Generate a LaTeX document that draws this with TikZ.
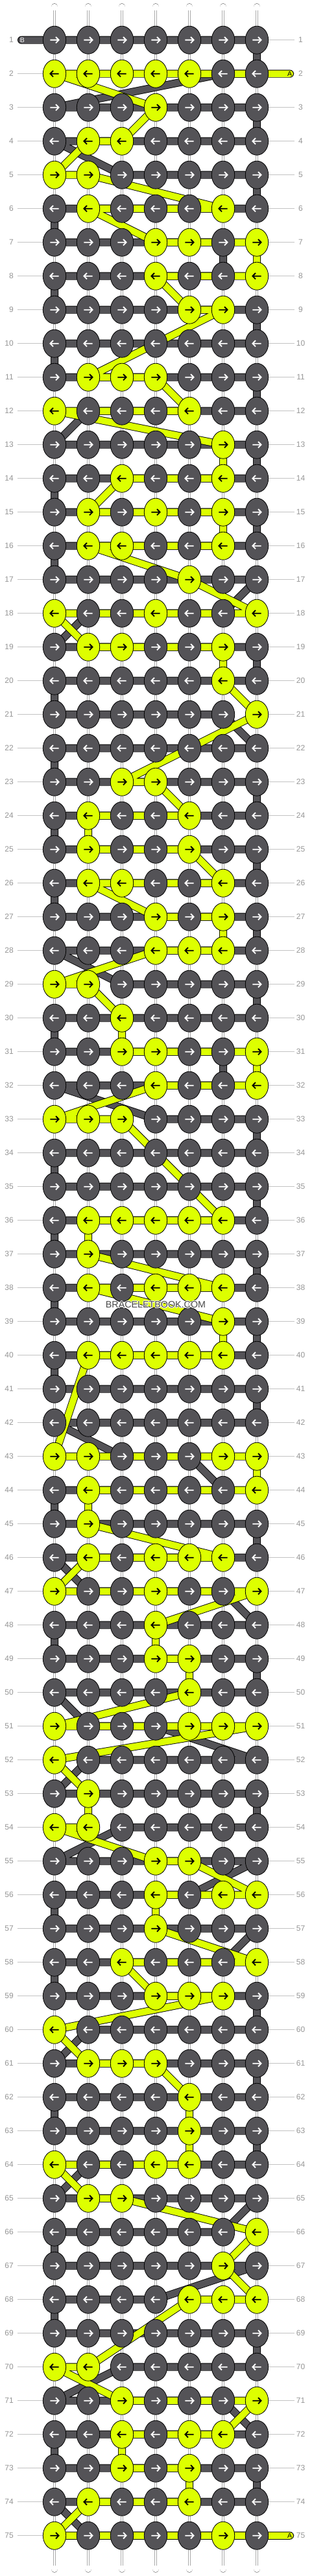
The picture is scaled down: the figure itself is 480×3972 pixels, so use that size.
\documentclass[tikz,border=0pt]{standalone}
\usepackage{fontspec}
\setmainfont{Liberation Sans}
\usetikzlibrary{shapes.geometric}
\definecolor{kgrey}{RGB}{84,83,87}
\definecolor{kyel}{RGB}{221,255,0}
\definecolor{lblgrey}{RGB}{150,150,150}
\definecolor{lnegrey}{RGB}{195,195,195}
\definecolor{strgrey}{RGB}{120,120,120}
\definecolor{strlight}{RGB}{170,170,170}
\definecolor{wmgrey}{RGB}{72,72,72}
\def\patternrows{%
GGGGGGG,YYYYYGG,GGGYGGG,GYYGGGG,YYGGGGG,%
GYGGGYG,GGGYYGY,GGGYGGY,GGGGYYG,GGGGGGG,%
GYYYGGG,YGGGYGG,GGGGGYG,GGYGGYG,GYGYGYG,%
GYYGGYG,GGGGYGG,YGGYGGY,GYYGGYG,GGGGGYG,%
GGGGGGY,GGGGGGG,GGYYGGG,GYGGYGG,GYGGYGG,%
GYYGGYG,GGGYGYG,GGGYYYG,YYGGGGG,GGYGGGG,%
GGYYGGY,GGGYGGY,YYYGGGG,GGGGGGG,GGGGGGG,%
GYYYYYG,GYGGGGG,GYGYYYG,GGGGGYG,GYYYYYG,%
GGGGGGG,GGGGGGG,YYGGGYY,GYGGGGY,GYGGGGG,%
GYGYYYG,YGGYGGY,GGGYGGG,GGGYYGG,GGGGYGG,%
YGGGYYY,YGGGGGG,GYGGGGG,YYGGGGG,GGGYYGG,%
GGGYGYY,GGGYGGG,GGYGGGY,GGGYYYG,YGGGGGG,%
GYYYGGG,GGGGYGG,GGGGYGG,YGGYYGG,GYYGGGG,%
GGGGGGY,GGGGGYG,GGGGYYY,GGGGGGG,YYGGGGG,%
GGYGGGY,GGYGYYG,GGYGYGG,GYGGYGG,YGGGGYG}
\def\Ychar{Y}
\def\splitrow#1#2#3#4#5#6#7{%
 \expandafter\def\csname col1\endcsname{#1}%
 \expandafter\def\csname col2\endcsname{#2}%
 \expandafter\def\csname col3\endcsname{#3}%
 \expandafter\def\csname col4\endcsname{#4}%
 \expandafter\def\csname col5\endcsname{#5}%
 \expandafter\def\csname col6\endcsname{#6}%
 \expandafter\def\csname col7\endcsname{#7}}
\def\drawpath#1#2{\edef\tmpdraw{\noexpand\draw[#1] #2;}\tmpdraw}
\begin{document}
\begin{tikzpicture}[x=1pt,y=-1pt,
  strout/.style={draw=strgrey,line width=10.8pt,line cap=round},
  strin/.style={draw=white,line width=9.2pt,line cap=round},
  strmid/.style={draw=strlight,line width=3.4pt},
  strmidw/.style={draw=white,line width=1.8pt},
  lblline/.style={draw=lnegrey,line width=0.9pt},
  gout/.style={draw=black,line width=12pt,line cap=round,line join=round},
  gin/.style={draw=kgrey,line width=10.2pt,line cap=round,line join=round},
  yout/.style={draw=black,line width=12pt,line cap=round,line join=round},
  yin/.style={draw=kyel,line width=10.2pt,line cap=round,line join=round},
  knot/.style={ellipse,draw=black,line width=0.8pt,minimum width=35.4pt,minimum height=43pt,inner sep=0pt},
  arrowline/.style={line width=1.9pt,line join=miter},
  lbl/.style={text=lblgrey,font=\fontsize{12pt}{14pt}\selectfont,inner sep=0pt},
  endlbl/.style={font=\fontsize{10.5pt}{12pt}\selectfont,inner sep=0pt},
  wm/.style={font=\fontsize{14.3pt}{16pt}\selectfont,inner sep=0pt}]
\fill[white] (0,0) rectangle (480,3972);
\useasboundingbox (0,0) rectangle (480,3972);
% vertical passive strings
\foreach \cc in {1,...,7}{
  \pgfmathsetmacro\xx{84+(\cc-1)*52}
  \coordinate (st-\cc) at (\xx,10.4);
  \coordinate (sb-\cc) at (\xx,3961.4);
  \coordinate (si-\cc) at (\xx,16);
  \coordinate (sj-\cc) at (\xx,3956);
  \draw[strout] (st-\cc) -- (sb-\cc);
  \draw[strin] (st-\cc) -- (sb-\cc);
  \draw[strmid] (si-\cc) -- (sj-\cc);
  \draw[strmidw] (si-\cc) -- (sj-\cc);
}
% knot positions and string paths
\coordinate (Bstart) at (33,61.7);
\coordinate (Astart) at (447,113.7);
\coordinate (Aend) at (447,3909.7);
\gdef\Gpath{(Bstart)}
\gdef\Ypath{(Astart)}
\foreach \rs [count=\rr] in \patternrows {
  \expandafter\splitrow\rs
  \pgfmathsetmacro\yy{61.7+(\rr-1)*52}
  \foreach \kk in {1,...,7}{
    \ifodd\rr\relax \edef\cc{\kk}\else \pgfmathtruncatemacro\cc{8-\kk}\fi
    \pgfmathsetmacro\xx{84+(\cc-1)*52}
    \coordinate (p-\rr-\cc) at (\xx,\yy);
    \expandafter\let\expandafter\cur\csname col\cc\endcsname
    \ifx\cur\Ychar \xdef\Ypath{\Ypath -- (p-\rr-\cc)}\else \xdef\Gpath{\Gpath -- (p-\rr-\cc)}\fi
    \expandafter\xdef\csname K-\rr-\cc\endcsname{\cur}
  }
}
\xdef\Ypath{\Ypath -- (Aend)}
% row guide lines
\foreach \rr in {1,...,75}{
  \pgfmathsetmacro\yy{61.7+(\rr-1)*52}
  \coordinate (ll-\rr) at (26.5,\yy);
  \coordinate (lr-\rr) at (454,\yy);
  \draw[lblline] (ll-\rr) -- (p-\rr-1);
  \draw[lblline] (p-\rr-7) -- (lr-\rr);
}
% working strings
\drawpath{gout}{\Gpath}
\drawpath{gin}{\Gpath}
\drawpath{yout}{\Ypath}
\drawpath{yin}{\Ypath}
% knots, arrows, row numbers
\foreach \rr in {1,...,75}{
  \pgfmathsetmacro\yy{61.7+(\rr-1)*52}
  \ifodd\rr\relax \def\dir{1}\else \def\dir{-1}\fi
  \foreach \cc in {1,...,7}{
    \expandafter\let\expandafter\cur\csname K-\rr-\cc\endcsname
    \ifx\cur\Ychar \def\kf{kyel}\def\af{black}\else \def\kf{kgrey}\def\af{white}\fi
    \node[knot,fill=\kf] (k-\rr-\cc) at (p-\rr-\cc) {};
    \begin{scope}[shift={(k-\rr-\cc.center)},xscale=\dir]
      \draw[arrowline,draw=\af] (-6.6,0) -- (6.0,0) (2,-4.7) -- (6.6,0) -- (2,4.7);
    \end{scope}
  }
  \node[lbl,anchor=east] (nl-\rr) at (20.9,\yy) {\rr};
  \node[lbl] (nr-\rr) at (463.5,\yy) {\rr};
}
% string end letters
\node[endlbl,text=white] (Blbl) at (34.5,61.7) {B};
\node[endlbl,text=black] (Albl1) at (446.5,113.7) {A};
\node[endlbl,text=black] (Albl2) at (446.5,3909.7) {A};
% watermark
\foreach \dx/\dy [count=\i] in {0.8/0,-0.8/0,0/0.8,0/-0.8,0.6/0.6,-0.6/0.6,0.6/-0.6,-0.6/-0.6}{
  \node[wm,text=white] (wmh-\i) at (240+\dx,2011.7+\dy) {BRACELETBOOK.COM};
}
\node[wm,text=wmgrey] (wm) at (240,2011.7) {BRACELETBOOK.COM};
\end{tikzpicture}
\end{document}
